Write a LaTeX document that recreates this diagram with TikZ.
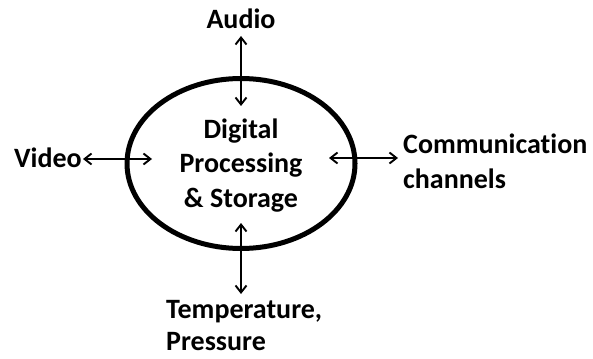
\documentclass[tikz,border=0pt]{standalone}
\usepackage{fontspec}
\setmainfont{Carlito}[Ligatures={NoCommon}]
\usetikzlibrary{arrows.meta,shapes.geometric}
\begin{document}
\begin{tikzpicture}[x=1pt,y=-1pt,
  lbl/.style={inner sep=0pt,font=\bfseries\fontsize{28}{34.5}\selectfont},
  conn/.style={line width=1.9pt,{Straight Barb[length=7pt,width=11pt]}-{Straight Barb[length=7pt,width=11pt]}},
  hub/.style={draw,line width=5pt,ellipse,minimum width=228pt,minimum height=170pt,inner sep=0pt}]
\useasboundingbox (0,0) rectangle (593,358);
\fill[white] (0,0) rectangle (593,358);
\node[hub] (core) at (241,163.5) {};
\node[lbl,align=center,anchor=base] (ctext) at (241,207) {Digital\\Processing\\\& Storage};
\node[lbl,anchor=base] (audio) at (241,29) {Audio};
\node[lbl,anchor=base east] (video) at (82,167) {Video};
\node[lbl,align=left,anchor=base west] (comm) at (403,188) {Communication\\channels};
\node[lbl,align=left,anchor=base west,font=\bfseries\fontsize{28}{32}\selectfont] (temp) at (166,350) {Temperature,\\Pressure};
\coordinate (aIn) at (241,106);
\coordinate (vIn) at (152,159);
\coordinate (cIn) at (329,158);
\coordinate (tIn) at (241,223);
\coordinate (aOut) at (241,36);
\coordinate (vOut) at (83,159);
\coordinate (cOut) at (398,158);
\coordinate (tOut) at (241,294);
\draw[conn] (aOut) -- (aIn);
\draw[conn] (vOut) -- (vIn);
\draw[conn] (cIn) -- (cOut);
\draw[conn] (tIn) -- (tOut);
\end{tikzpicture}
\end{document}
